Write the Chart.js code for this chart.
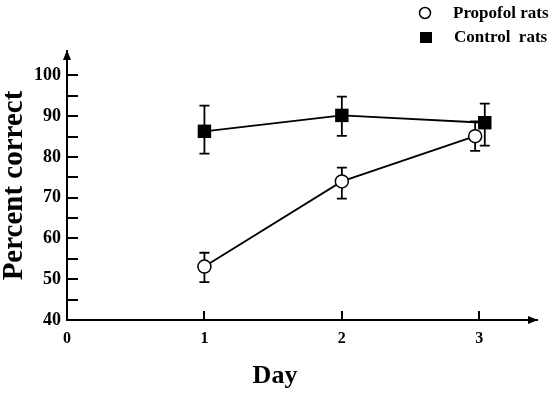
<!DOCTYPE html>
<html>
<head>
<meta charset="utf-8">
<script src="https://cdn.jsdelivr.net/npm/chart.js@4.4.0/dist/chart.umd.min.js"></script>
<style>
  html, body { margin: 0; padding: 0; background: #fff; }
  #wrap { width: 556px; height: 393px; position: relative; }
</style>
</head>
<body>
<div id="wrap"><canvas id="myChart"></canvas></div>
<script>
// data
const xTickLabels = [0, 1, 2, 3];
const yTickLabels = [40, 50, 60, 70, 80, 90, 100];
const propofolDays = [1, 2, 2.97];
const propofolMean = [53.1, 74.0, 85.1];
const propofolUpper = [56.5, 77.4, 88.7];
const propofolLower = [49.3, 69.8, 81.5];
const controlDays = [1, 2, 3.04];
const controlMean = [86.3, 90.2, 88.4];
const controlUpper = [92.6, 94.8, 93.1];
const controlLower = [80.8, 85.2, 82.8];

const serif = '"Liberation Serif", "Times New Roman", serif';

function toPoints(xs, ys, hi, lo) {
    return xs.map((x, i) => ({ x: x, y: ys[i], hi: hi[i], lo: lo[i] }));
}

// error bars, inner ticks, arrows, legend, x title
const extras = {
    id: 'extras',
    beforeDatasetsDraw(chart) {
        const ctx = chart.ctx;
        const xs = chart.scales.x, ys = chart.scales.y;
        ctx.save();
        ctx.strokeStyle = '#000';
        ctx.lineWidth = 1.8;
        chart.data.datasets.forEach(ds => {
            ds.data.forEach(p => {
                const px = xs.getPixelForValue(p.x);
                const top = ys.getPixelForValue(p.hi);
                const bot = ys.getPixelForValue(p.lo);
                ctx.beginPath();
                ctx.moveTo(px, top); ctx.lineTo(px, bot);
                ctx.moveTo(px - 5, top); ctx.lineTo(px + 5, top);
                ctx.moveTo(px - 5, bot); ctx.lineTo(px + 5, bot);
                ctx.stroke();
            });
        });
        ctx.restore();
    },
    afterDraw(chart) {
        const ctx = chart.ctx;
        const xs = chart.scales.x, ys = chart.scales.y;
        const a = chart.chartArea;
        ctx.save();
        ctx.strokeStyle = '#000';
        ctx.fillStyle = '#000';
        ctx.lineWidth = 2;
        // y inner ticks every 5
        ctx.beginPath();
        for (let v = 45; v <= 100; v += 5) {
            const py = Math.round(ys.getPixelForValue(v));
            ctx.moveTo(a.left, py); ctx.lineTo(a.left + 11, py);
        }
        // x inner ticks
        [1, 2, 3].forEach(d => {
            const px = Math.round(xs.getPixelForValue(d));
            ctx.moveTo(px, a.bottom); ctx.lineTo(px, a.bottom - 9);
        });
        ctx.stroke();
        // arrow heads
        ctx.beginPath();
        ctx.moveTo(a.left, a.top - 1);
        ctx.lineTo(a.left - 4, a.top + 9);
        ctx.lineTo(a.left + 4, a.top + 9);
        ctx.closePath();
        ctx.fill();
        ctx.beginPath();
        ctx.moveTo(a.right + 1, a.bottom);
        ctx.lineTo(a.right - 9, a.bottom - 4);
        ctx.lineTo(a.right - 9, a.bottom + 4);
        ctx.closePath();
        ctx.fill();
        // legend
        ctx.lineWidth = 1.5;
        ctx.fillStyle = '#fff';
        ctx.beginPath();
        ctx.arc(425, 13, 5.5, 0, Math.PI * 2);
        ctx.fill(); ctx.stroke();
        ctx.fillStyle = '#000';
        ctx.fillRect(420, 32, 12, 11);
        ctx.font = 'bold 17px ' + serif;
        ctx.textBaseline = 'middle';
        ctx.textAlign = 'left';
        ctx.fillText('Propofol rats', 453, 14);
        ctx.fillText('Control  rats', 454, 38);
        // x title
        ctx.font = 'bold 26px ' + serif;
        ctx.textAlign = 'center';
        ctx.fillText('Day', 275, 376);
        ctx.restore();
    }
};

const ctx = document.getElementById('myChart');
const myChart = new Chart(ctx, {
    type: 'scatter',
    data: {
        datasets: [
            {
                label: 'Propofol rats',
                data: toPoints(propofolDays, propofolMean, propofolUpper, propofolLower),
                showLine: true,
                borderColor: '#000',
                borderWidth: 1.8,
                pointStyle: 'circle',
                pointRadius: 6.5,
                pointBackgroundColor: '#fff',
                pointBorderColor: '#000',
                pointBorderWidth: 1.5,
                order: 1
            },
            {
                label: 'Control rats',
                data: toPoints(controlDays, controlMean, controlUpper, controlLower),
                showLine: true,
                borderColor: '#000',
                borderWidth: 1.8,
                pointStyle: 'rect',
                pointRadius: 9.5,
                pointBackgroundColor: '#000',
                pointBorderColor: '#000',
                pointBorderWidth: 0,
                order: 0
            }
        ]
    },
    options: {
        responsive: true,
        maintainAspectRatio: false,
        animation: false,
        layout: { padding: { top: 51, right: 19, left: 0, bottom: 0 }, autoPadding: false },
        plugins: { legend: { display: false }, tooltip: { enabled: false } },
        scales: {
            x: {
                type: 'linear',
                min: 0,
                max: 3.42,
                afterBuildTicks: s => { s.ticks = xTickLabels.map(v => ({ value: v })); },
                afterFit: s => { s.height = 73; },
                grid: { display: false, drawTicks: false },
                border: { display: true, color: '#000', width: 2 },
                ticks: { color: '#000', padding: 9, font: { family: serif, size: 16, weight: 'bold' } }
            },
            y: {
                min: 40,
                max: 106,
                afterBuildTicks: s => { s.ticks = yTickLabels.map(v => ({ value: v })); },
                afterFit: s => { s.width = 67; },
                grid: { display: false, drawTicks: false },
                border: { display: true, color: '#000', width: 2 },
                ticks: { color: '#000', padding: 6, font: { family: serif, size: 18, weight: 'bold' } },
                title: {
                    display: true,
                    text: 'Percent correct',
                    color: '#000',
                    padding: 0,
                    font: { family: serif, size: 29, weight: 'bold', lineHeight: 1 }
                }
            }
        }
    },
    plugins: [extras]
});
</script>
</body>
</html>
